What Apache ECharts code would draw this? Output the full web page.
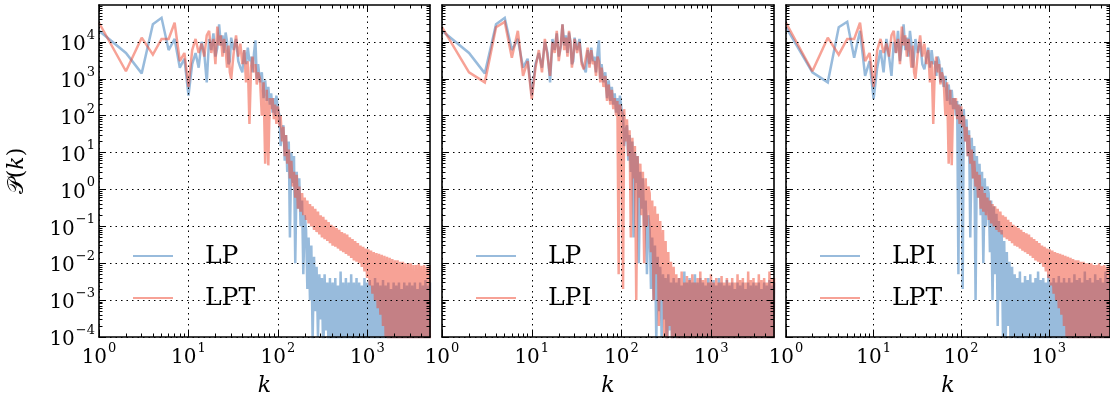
<!DOCTYPE html>
<html>
<head>
<meta charset="utf-8">
<script src="https://cdn.jsdelivr.net/npm/echarts@6/dist/echarts.min.js"></script>
<style>html,body{margin:0;padding:0;background:#fff}#c{width:1110px;height:403px}</style>
</head>
<body>
<div id="c"></div>
<script>
// wavenumber k (sampling points)
const K = [1,2,3,4,5,6,7,8,9,10,11,12,13,14,15,16,17,18,19,20,21,22,23,24,25,26,27,28,29,30,
32,34,36,38,40,42,44,46,48,50,52,54,56,58,60,
63,66,69,72,75,78,81,84,87,90,93,96,100,
104,107,111,115,119,123,127,132,136,141,146,151,156,162,167,173,179,186,192,199,
206,213,220,228,236,244,253,261,270,280,290,300,310,321,332,344,356,368,381,394,
408,422,437,452,468,484,501,518,536,555,574,594,615,636,658,681,705,729,755,781,
808,836,865,895,926,958,991,1026,1061,1098,1136,1176,1216,1259,1302,1348,1394,1443,1493,1545,
1598,1654,1711,1771,1832,1896,1962,2030,2100,2173,2249,2327,2408,2491,2578,2667,2760,2856,2955,3057,
3164,3273,3387,3505,3626,3752,3883,4017,4157,4301,4451,4605,4765,4931,5000];

const LP = [2e4,5e3,1.4e3,3e4,4.5e4,6e3,1.2e4,2e3,3.5e3,3.5e2,2.5e3,5e3,2e3,1e4,5e3,8e2,1.2e4,6e3,1.7e4,4e3,7e3,3e4,8e3,1.5e4,5e3,1.8e4,1e4,2.5e3,3e3,1.3e4,
6e3,1.2e4,3e3,2e3,1.5e3,6e3,2.5e3,7e3,3e3,4e3,1.5e3,5e3,1.1e4,1e3,2.5e3,
8e2,1.5e3,3e2,9e2,2.5e2,6e2,2e2,4e2,1.2e2,3e2,1e2,3.5e2,1.5e2,
100,15,40,55,6,30,3,20,0.05,10,1.5,8,0.01,3,0.3,2,0.1,0.5,5e-3,0.2,
0.08,2e-3,0.05,1e-3,0.03,8e-5,0.015,5e-4,8e-3,1e-4,5e-3,3e-4,4e-3,2e-5,5e-3,1.5e-4,3e-3,3e-5,4e-3,1e-5,
3e-3,2e-5,4e-3,5e-5,2.5e-3,1e-5,6e-3,8e-5,3e-3,2e-5,4e-3,1e-5,3e-3,6e-5,5e-3,1e-5,3e-3,2e-5,4e-3,1e-5,
3e-3,5e-5,2.5e-3,1e-5,4e-3,2e-5,3e-3,1e-5,3.5e-3,5e-5,2.5e-3,1e-5,4e-3,2e-5,3e-3,1e-5,2.5e-3,3e-5,3.5e-3,1e-5,
2.5e-3,2e-5,3e-3,1e-5,2e-3,3e-5,3e-3,1e-5,2.5e-3,2e-5,3e-3,1e-5,2e-3,2e-5,3e-3,1e-5,2.5e-3,3e-5,3e-3,1e-5,
2.5e-3,2e-5,3e-3,1e-5,2e-3,3e-5,3e-3,1e-5,2.5e-3,2e-5,3.5e-3,1e-5,2.5e-3,1e-5,3e-3];

const LPI = [2.5e4,1.5e3,8e2,2.5e4,3.5e4,3.7e3,2e4,1.2e3,3e3,2.8e2,2e3,6e3,1.5e3,1.2e4,4e3,1.2e3,1e4,5e3,2e4,3e3,8e3,3e4,6e3,1.3e4,4e3,2e4,9e3,2e3,4e3,1.2e4,
5e3,1e4,2.5e3,1.8e3,2e3,7e3,2e3,6e3,2.5e3,3e3,1.2e3,4e3,3e3,8e2,2e3,
6e2,1.2e3,2.5e2,7e2,2e2,5e2,1.5e2,3e2,1e2,2.5e2,5e-3,2e2,1.2e2,
2e-3,150,20,80,8,40,0.05,25,2,15,1e-3,8,0.6,5,0.2,3,0.01,2,0.1,1.2,
0.8,0.02,0.5,1e-3,0.35,5e-3,0.22,2e-4,0.14,1e-3,0.08,1e-4,0.04,3e-5,0.02,2e-4,0.011,2e-5,8e-3,1e-4,
5e-3,1e-5,4e-3,3e-5,6e-3,1e-5,3e-3,5e-5,4.5e-3,1e-5,3.5e-3,2e-5,5e-3,1e-5,3e-3,4e-5,4e-3,1e-5,6e-3,2e-5,
3.5e-3,1e-5,4e-3,3e-5,3e-3,1e-5,5e-3,2e-5,3e-3,1e-5,4e-3,3e-5,3e-3,1e-5,4.5e-3,2e-5,3e-3,1e-5,4e-3,3e-5,
3e-3,1e-5,4e-3,2e-5,3e-3,1e-5,5e-3,3e-5,3.5e-3,1e-5,4e-3,2e-5,3e-3,1e-5,6e-3,3e-5,3.5e-3,1e-5,4e-3,2e-5,
3e-3,1e-5,5e-3,2e-5,3.5e-3,1e-5,4e-3,3e-5,3e-3,1e-5,6e-3,2e-5,4e-3,1e-5,4e-3];

const LPT = [3.3e4,1.6e3,1.3e4,4.5e3,1.2e4,1.2e4,3.3e4,3e3,5e3,6e2,6e3,1.2e4,5e3,9e3,4e3,1.5e4,2e4,5e3,1.2e4,2.5e3,2.6e4,8e3,1.5e4,4e3,1.2e4,6e3,2e3,8e3,1.5e3,1e3,
5e3,1.5e4,4e3,9e3,2.5e3,6e3,8e2,3e3,60,2e3,4e3,1.5e3,2.5e3,7e2,1.5e3,
1e3,1e2,8e2,5,5e2,4.5,3e2,1.5e2,3e2,80,2e2,60,1.8e2,
50,100,20,50,8,30,5,12,2,6,1.2,3,0.6,2.5,0.3,1.2,0.25,0.8,0.2,0.6,
0.15,0.5,0.12,0.4,0.1,0.35,0.08,0.3,0.07,0.25,0.06,0.2,0.05,0.18,0.045,0.15,0.04,0.13,0.035,0.11,
0.03,0.1,0.028,0.09,0.025,0.08,0.022,0.07,0.02,0.065,0.018,0.06,0.016,0.05,0.014,0.045,0.012,0.04,0.011,0.035,
0.01,0.03,8e-3,0.028,6e-3,0.025,4e-3,0.024,2.5e-3,0.022,1.5e-3,0.02,1e-3,0.019,6e-4,0.018,4e-4,0.017,2e-4,0.016,
1e-4,0.015,5e-5,0.014,3e-5,0.013,1e-5,0.012,2e-5,0.012,1e-5,0.011,1e-5,0.011,2e-5,0.01,1e-5,0.01,1e-5,0.01,
2e-5,9e-3,1e-5,9e-3,1e-5,0.01,2e-5,8.5e-3,1e-5,9e-3,1e-5,8e-3,2e-5,9e-3,1e-5];

const SERIES_DATA = { LP: LP, LPI: LPI, LPT: LPT };
const PANELS = [['LP','LPT'], ['LP','LPI'], ['LPI','LPT']];
const X_MAJOR = [1, 10, 100, 1000];
const Y_MAJOR = [1e-4, 1e-3, 1e-2, 1e-1, 1, 10, 100, 1000, 1e4];
const X_LABELS = [1, 10, 100, 1000];
const Y_LABELS = [1e-4, 1e-3, 1e-2, 1e-1, 1, 10, 100, 1000, 1e4];

function minors(d0, d1, lo, hi) {
  const out = [];
  for (let d = d0; d <= d1; d++) for (let m = 2; m <= 9; m++) {
    const v = m * Math.pow(10, d);
    if (v > lo && v < hi) out.push(v);
  }
  return out;
}
const X_MINOR = minors(0, 3, 1, 5000);
const Y_MINOR = minors(-4, 4, 1e-4, 1e5);

const SERIF = "'DejaVu Serif', serif";
const BLUE = 'rgba(50,120,185,0.5)';
const RED = 'rgba(240,70,45,0.5)';

function powLabel(v) {
  const e = Math.round(Math.log10(v));
  const s = e < 0 ? '\u2212' + Math.abs(e) : String(e);
  return '{b|10}{s|' + s + '}';
}
const RICH = {
  b: { fontFamily: SERIF, fontSize: 20, color: '#000', lineHeight: 26, verticalAlign: 'bottom' },
  s: { fontFamily: SERIF, fontSize: 13, color: '#000', lineHeight: 26, verticalAlign: 'top', padding: [0, 0, 0, 1] }
};

const GRIDS = [
  { left: 99, top: 5, width: 331, height: 332 },
  { left: 442, top: 5, width: 332, height: 332 },
  { left: 786, top: 5, width: 331, height: 332 }
];

const xAxis = [], yAxis = [];
const lineBlack = { color: '#000', width: 1 };
GRIDS.forEach((g, p) => {
  const xBase = { type: 'log', logBase: 10, gridIndex: p, min: 1, max: 5000, z: 10 };
  xAxis.push(Object.assign({}, xBase, {
    position: 'bottom',
    axisLine: { show: true, onZero: false, lineStyle: { color: '#000', width: 1.6 } },
    axisTick: { show: true, inside: true, length: 6, customValues: X_MAJOR, lineStyle: lineBlack },
    axisLabel: { show: true, customValues: X_LABELS, margin: 5, formatter: powLabel, rich: RICH },
    splitLine: { show: true, lineStyle: { color: '#000', width: 1, type: [1.5, 4] } },
    name: '{k|k}', nameLocation: 'middle', nameGap: 38,
    nameTextStyle: { rich: { k: { fontFamily: SERIF, fontStyle: 'italic', fontSize: 22, color: '#000' } } }
  }));
  xAxis.push(Object.assign({}, xBase, {
    position: 'bottom', axisLine: { show: false },
    axisTick: { show: true, inside: true, length: 3.5, customValues: X_MINOR, lineStyle: lineBlack },
    axisLabel: { show: false }, splitLine: { show: false }
  }));
  xAxis.push(Object.assign({}, xBase, {
    position: 'top',
    axisLine: { show: true, onZero: false, lineStyle: { color: '#000', width: 1.6 } },
    axisTick: { show: true, inside: true, length: 6, customValues: X_MAJOR, lineStyle: lineBlack },
    axisLabel: { show: false }, splitLine: { show: false }
  }));
  xAxis.push(Object.assign({}, xBase, {
    position: 'top', axisLine: { show: false },
    axisTick: { show: true, inside: true, length: 3.5, customValues: X_MINOR, lineStyle: lineBlack },
    axisLabel: { show: false }, splitLine: { show: false }
  }));

  const yBase = { type: 'log', logBase: 10, gridIndex: p, min: 1e-4, max: 1e5, z: 10 };
  const mainY = Object.assign({}, yBase, {
    position: 'left',
    axisLine: { show: true, onZero: false, lineStyle: { color: '#000', width: 1.6 } },
    axisTick: { show: true, inside: true, length: 6, customValues: Y_MAJOR, lineStyle: lineBlack },
    axisLabel: { show: p === 0, customValues: Y_LABELS, margin: 4, formatter: powLabel, rich: RICH },
    splitLine: { show: true, lineStyle: { color: '#000', width: 1, type: [1.5, 4] } }
  });
  if (p === 0) {
    mainY.name = '{p|\uD835\uDCAB}{n|(}{k|k}{n|)}';
    mainY.nameLocation = 'middle';
    mainY.nameGap = 71;
    mainY.nameRotate = 90;
    mainY.nameTextStyle = { rich: {
      p: { fontFamily: SERIF, fontSize: 22, color: '#000' },
      n: { fontFamily: SERIF, fontSize: 22, color: '#000' },
      k: { fontFamily: SERIF, fontStyle: 'italic', fontSize: 22, color: '#000' }
    } };
  }
  yAxis.push(mainY);
  yAxis.push(Object.assign({}, yBase, {
    position: 'left', axisLine: { show: false },
    axisTick: { show: true, inside: true, length: 3.5, customValues: Y_MINOR, lineStyle: lineBlack },
    axisLabel: { show: false }, splitLine: { show: false }
  }));
  yAxis.push(Object.assign({}, yBase, {
    position: 'right',
    axisLine: { show: true, onZero: false, lineStyle: { color: '#000', width: 1.6 } },
    axisTick: { show: true, inside: true, length: 6, customValues: Y_MAJOR, lineStyle: lineBlack },
    axisLabel: { show: false }, splitLine: { show: false }
  }));
  yAxis.push(Object.assign({}, yBase, {
    position: 'right', axisLine: { show: false },
    axisTick: { show: true, inside: true, length: 3.5, customValues: Y_MINOR, lineStyle: lineBlack },
    axisLabel: { show: false }, splitLine: { show: false }
  }));
});

const series = [];
const legends = [];
PANELS.forEach((pair, p) => {
  const names = [];
  pair.forEach((key, j) => {
    const nm = key + ' '.repeat(p);
    names.push(nm);
    const col = j === 0 ? BLUE : RED;
    series.push({
      type: 'line', name: nm, xAxisIndex: 4 * p, yAxisIndex: 4 * p,
      data: K.map((k, i) => [k, SERIES_DATA[key][i]]),
      showSymbol: false, symbol: 'none', clip: true, z: 2 + j,
      color: col, lineStyle: { color: col, width: 2.5, join: 'miter', miterLimit: 2 },
      emphasis: { disabled: true }
    });
  });
  legends.push({
    data: names, orient: 'vertical', left: GRIDS[p].left + 29, top: 236, padding: 5,
    icon: 'rect', itemWidth: 40, itemHeight: 2, itemGap: 12, selectedMode: false,
    formatter: n => n.trim(),
    textStyle: { fontFamily: SERIF, fontSize: 25, color: '#000', lineHeight: 30, padding: [0, 0, 0, 27] }
  });
});

const chart = echarts.init(document.getElementById('c'), null, { renderer: 'canvas' });
chart.setOption({
  animation: false,
  backgroundColor: '#fff',
  grid: GRIDS,
  xAxis: xAxis,
  yAxis: yAxis,
  legend: legends,
  series: series
});
</script>
</body>
</html>
